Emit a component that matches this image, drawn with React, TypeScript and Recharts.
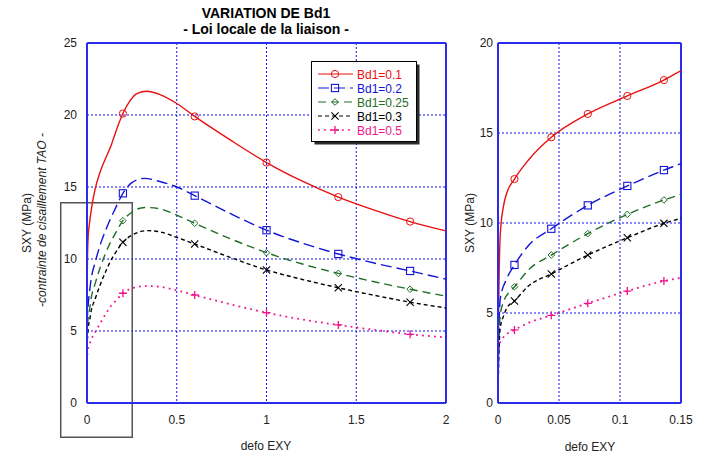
import React from 'react';
import { LineChart, Line, XAxis, YAxis, CartesianGrid, ReferenceArea, ReferenceLine } from 'recharts';

// Shear stress SXY (MPa) against strain EXY, one curve per Bd1 value
const exy01 = [0, 0.0006, 0.0019, 0.0044, 0.0071, 0.0135, 0.025, 0.0437, 0.0736, 0.106, 0.136, 0.15, 0.2, 0.24, 0.28, 0.333, 0.4, 0.5, 0.6, 0.8, 1.0, 1.2, 1.4, 1.6, 1.8, 2.0];
const sxy01 = [0, 5.5, 9.4, 10.9, 11.65, 12.44, 13.5, 14.76, 16.06, 17.06, 17.94, 18.46, 20.1, 21.0, 21.5, 21.65, 21.45, 20.8, 19.9, 18.25, 16.7, 15.4, 14.3, 13.4, 12.6, 11.95];

const exy02 = [0, 0.0006, 0.0019, 0.0071, 0.0135, 0.025, 0.0437, 0.0736, 0.106, 0.136, 0.15, 0.2, 0.25, 0.32, 0.4, 0.5, 0.6, 0.8, 1.0, 1.2, 1.4, 1.6, 1.8, 2.0];
const sxy02 = [0, 3.5, 5.8, 6.9, 7.67, 8.75, 9.68, 10.98, 12.06, 12.94, 13.3, 14.56, 15.3, 15.6, 15.4, 15.0, 14.4, 13.15, 12.0, 11.1, 10.35, 9.72, 9.17, 8.6];

const exy025 = [0, 0.0006, 0.0019, 0.0044, 0.0098, 0.0135, 0.025, 0.0437, 0.0736, 0.106, 0.136, 0.15, 0.2, 0.25, 0.32, 0.4, 0.5, 0.6, 0.8, 1.0, 1.2, 1.4, 1.6, 1.8, 2.0];
const sxy025 = [0, 3.0, 4.9, 5.6, 6.2, 6.46, 7.4, 8.22, 9.41, 10.48, 11.28, 11.59, 12.66, 13.25, 13.58, 13.5, 13.05, 12.48, 11.4, 10.44, 9.65, 9.0, 8.42, 7.9, 7.42];

const exy03 = [0, 0.0006, 0.0019, 0.0044, 0.0071, 0.0135, 0.025, 0.0437, 0.0736, 0.106, 0.136, 0.15, 0.2, 0.25, 0.34, 0.4, 0.5, 0.6, 0.8, 1.0, 1.2, 1.4, 1.6, 1.8, 2.0];
const sxy03 = [0, 2.5, 4.2, 4.8, 5.26, 5.67, 6.5, 7.17, 8.22, 9.18, 9.98, 10.26, 11.16, 11.65, 11.97, 11.9, 11.5, 11.04, 10.1, 9.24, 8.58, 8.0, 7.48, 7.0, 6.6];

const exy05 = [0, 0.0003, 0.001, 0.0044, 0.0135, 0.025, 0.0437, 0.0736, 0.106, 0.136, 0.15, 0.2, 0.26, 0.33, 0.4, 0.5, 0.6, 0.8, 1.0, 1.2, 1.4, 1.6, 1.8, 2.0];
const sxy05 = [0, 2.5, 3.2, 3.65, 4.06, 4.45, 4.87, 5.54, 6.22, 6.78, 6.96, 7.62, 8.0, 8.12, 8.08, 7.82, 7.5, 6.85, 6.27, 5.8, 5.42, 5.08, 4.77, 4.56];

const seriesLabels = ['Bd1=0.1', 'Bd1=0.2', 'Bd1=0.25', 'Bd1=0.3', 'Bd1=0.5'];

// Strain values that carry a symbol in each panel
const mainMarkerX = [0.2, 0.6, 1.0, 1.4, 1.8];
const zoomMarkerX = [0.0135, 0.0437, 0.0736, 0.106, 0.136];

const mainXTicks = [0, 0.5, 1, 1.5, 2];
const mainYTicks = [0, 5, 10, 15, 20, 25];
const zoomXTicks = [0, 0.05, 0.1, 0.15];
const zoomYTicks = [0, 5, 10, 15, 20];

const FONT = '"Liberation Sans", Arial, Helvetica, sans-serif';
const GRID_BLUE = '#1010f0';
const FRAME_BLUE = '#2b2bea';

type MarkerKind = 'circle' | 'square' | 'diamond' | 'cross' | 'plus';

interface Series {
  label: string;
  color: string;
  dash?: string;
  width: number;
  marker: MarkerKind;
  data: { x: number; y: number }[];
}

const toPoints = (xs: number[], ys: number[]) => xs.map((x, i) => ({ x, y: ys[i] }));

const series: Series[] = [
  { label: seriesLabels[0], color: '#e81010', width: 1.4, marker: 'circle', data: toPoints(exy01, sxy01) },
  { label: seriesLabels[1], color: '#1414d8', dash: '11 5', width: 1.4, marker: 'square', data: toPoints(exy02, sxy02) },
  { label: seriesLabels[2], color: '#1f6e25', dash: '8 5', width: 1.4, marker: 'diamond', data: toPoints(exy025, sxy025) },
  { label: seriesLabels[3], color: '#000000', dash: '4 3', width: 1.4, marker: 'cross', data: toPoints(exy03, sxy03) },
  { label: seriesLabels[4], color: '#f0148c', dash: '1.8 4.2', width: 1.8, marker: 'plus', data: toPoints(exy05, sxy05) },
];

function Marker({ kind, cx, cy, color }: { kind: MarkerKind; cx: number; cy: number; color: string }) {
  switch (kind) {
    case 'circle':
      return <circle cx={cx} cy={cy} r={3.6} fill="none" stroke={color} strokeWidth={1} />;
    case 'square':
      return <rect x={cx - 3.6} y={cy - 3.6} width={7.2} height={7.2} fill="none" stroke={color} strokeWidth={1.1} />;
    case 'diamond':
      return (
        <path
          d={`M${cx} ${cy - 3.3} L${cx + 3.3} ${cy} L${cx} ${cy + 3.3} L${cx - 3.3} ${cy} Z`}
          fill="none"
          stroke={color}
          strokeWidth={1}
        />
      );
    case 'cross':
      return (
        <path
          d={`M${cx - 3.6} ${cy - 3.6} L${cx + 3.6} ${cy + 3.6} M${cx + 3.6} ${cy - 3.6} L${cx - 3.6} ${cy + 3.6}`}
          stroke={color}
          strokeWidth={1.1}
        />
      );
    default:
      return (
        <path
          d={`M${cx - 4} ${cy} L${cx + 4} ${cy} M${cx} ${cy - 4} L${cx} ${cy + 4}`}
          stroke={color}
          strokeWidth={1.3}
        />
      );
  }
}

const isMarked = (x: number, marks: number[]) => marks.some((m) => Math.abs(m - x) < 1e-9);

function renderDot(s: Series, marks: number[]) {
  return (props: any) => {
    const { cx, cy, payload, index } = props;
    if (!payload || cx == null || cy == null || !isMarked(payload.x, marks)) {
      return <g key={`d-${index}`} />;
    }
    return (
      <g key={`d-${index}`}>
        <Marker kind={s.marker} cx={cx} cy={cy} color={s.color} />
      </g>
    );
  };
}

const tickStyle = { fill: '#222', fontSize: 12, fontFamily: FONT };

function MainPanel() {
  return (
    <LineChart width={460} height={468} margin={{ top: 43, right: 14, bottom: 35, left: 47 }}>
      <CartesianGrid stroke={GRID_BLUE} strokeDasharray="2 2" strokeWidth={1} />
      <XAxis
        type="number"
        dataKey="x"
        domain={[0, 2]}
        ticks={mainXTicks}
        tick={tickStyle}
        tickLine={false}
        tickSize={0}
        tickMargin={12}
        height={30}
        axisLine={{ stroke: FRAME_BLUE, strokeWidth: 2 }}
      />
      <YAxis
        type="number"
        domain={[0, 25]}
        ticks={mainYTicks}
        tick={tickStyle}
        tickLine={false}
        tickSize={0}
        tickMargin={10}
        width={40}
        axisLine={{ stroke: FRAME_BLUE, strokeWidth: 2 }}
      />
      <ReferenceLine x={2} stroke={FRAME_BLUE} strokeWidth={2} />
      <ReferenceLine y={25} stroke={FRAME_BLUE} strokeWidth={2} />
      <ReferenceArea
        x1={-0.1465}
        x2={0.252}
        y1={-2.38}
        y2={13.91}
        ifOverflow="visible"
        fill="none"
        fillOpacity={0}
        stroke="#555"
        strokeWidth={1.5}
      />
      {series.map((s) => (
        <Line
          key={s.label}
          data={s.data}
          dataKey="y"
          type="monotone"
          stroke={s.color}
          strokeWidth={s.width}
          strokeDasharray={s.dash}
          dot={renderDot(s, mainMarkerX)}
          activeDot={false}
          isAnimationActive={false}
        />
      ))}
    </LineChart>
  );
}

function ZoomPanel() {
  return (
    <LineChart width={254} height={468} margin={{ top: 43, right: 33, bottom: 35, left: 8 }}>
      <CartesianGrid stroke={GRID_BLUE} strokeDasharray="2 2" strokeWidth={1} />
      <XAxis
        type="number"
        dataKey="x"
        domain={[0, 0.15]}
        allowDataOverflow
        ticks={zoomXTicks}
        tick={tickStyle}
        tickLine={false}
        tickSize={0}
        tickMargin={12}
        height={30}
        axisLine={{ stroke: FRAME_BLUE, strokeWidth: 2 }}
      />
      <YAxis
        type="number"
        domain={[0, 20]}
        allowDataOverflow
        ticks={zoomYTicks}
        tick={tickStyle}
        tickLine={false}
        tickSize={0}
        tickMargin={5}
        width={30}
        axisLine={{ stroke: FRAME_BLUE, strokeWidth: 2 }}
      />
      <ReferenceLine x={0.15} stroke={FRAME_BLUE} strokeWidth={2} />
      <ReferenceLine y={20} stroke={FRAME_BLUE} strokeWidth={2} />
      {series.map((s) => (
        <Line
          key={s.label}
          data={s.data}
          dataKey="y"
          type="monotone"
          stroke={s.color}
          strokeWidth={s.width}
          strokeDasharray={s.dash}
          dot={renderDot(s, zoomMarkerX)}
          activeDot={false}
          isAnimationActive={false}
        />
      ))}
    </LineChart>
  );
}

function Annotations() {
  const rows = [74, 88, 102, 116, 130];
  return (
    <svg
      width={714}
      height={468}
      style={{ position: 'absolute', left: 0, top: 0, pointerEvents: 'none' }}
      fontFamily={FONT}
    >
      <text x={266} y={18} textAnchor="middle" fontSize={14} fontWeight="bold" fill="#000">
        VARIATION DE Bd1
      </text>
      <text x={266} y={34} textAnchor="middle" fontSize={14} fontWeight="bold" fill="#000">
        - Loi locale de la liaison -
      </text>

      <text x={266} y={450} textAnchor="middle" fontSize={12} fill="#222">defo EXY</text>
      <text x={590} y={451} textAnchor="middle" fontSize={12} fill="#222">defo EXY</text>

      <text transform="translate(31 223) rotate(-90)" textAnchor="middle" fontSize={12} fill="#222">
        SXY (MPa)
      </text>
      <text
        transform="translate(46 220) rotate(-90)"
        textAnchor="middle"
        fontSize={12}
        fontStyle="italic"
        fill="#222"
      >
        -contrainte de cisaillement TAO -
      </text>
      <text transform="translate(474 223) rotate(-90)" textAnchor="middle" fontSize={12} fill="#222">
        SXY (MPa)
      </text>

      {/* legend box with drop shadow */}
      <rect x={314.5} y={64.5} width={105} height={80} fill="#2a2a2a" />
      <rect x={311.5} y={61.5} width={105} height={80} fill="#fff" stroke="#000" strokeWidth={1} />
      {series.map((s, i) => (
        <g key={s.label}>
          <line
            x1={318}
            x2={353}
            y1={rows[i]}
            y2={rows[i]}
            stroke={s.color}
            strokeWidth={s.width > 1.5 ? 1.6 : 1.2}
            strokeDasharray={s.dash}
          />
          <Marker kind={s.marker} cx={335} cy={rows[i]} color={s.color} />
          <text x={357} y={rows[i] + 4.5} fontSize={12} fill={s.color}>
            {s.label}
          </text>
        </g>
      ))}
    </svg>
  );
}

export default function App() {
  return (
    <div style={{ position: 'absolute', left: 0, top: 0, width: 714, height: 468, background: '#fff', fontFamily: FONT }}>
      <div style={{ position: 'absolute', left: 0, top: 0 }}>
        <MainPanel />
      </div>
      <div style={{ position: 'absolute', left: 460, top: 0 }}>
        <ZoomPanel />
      </div>
      <Annotations />
    </div>
  );
}
